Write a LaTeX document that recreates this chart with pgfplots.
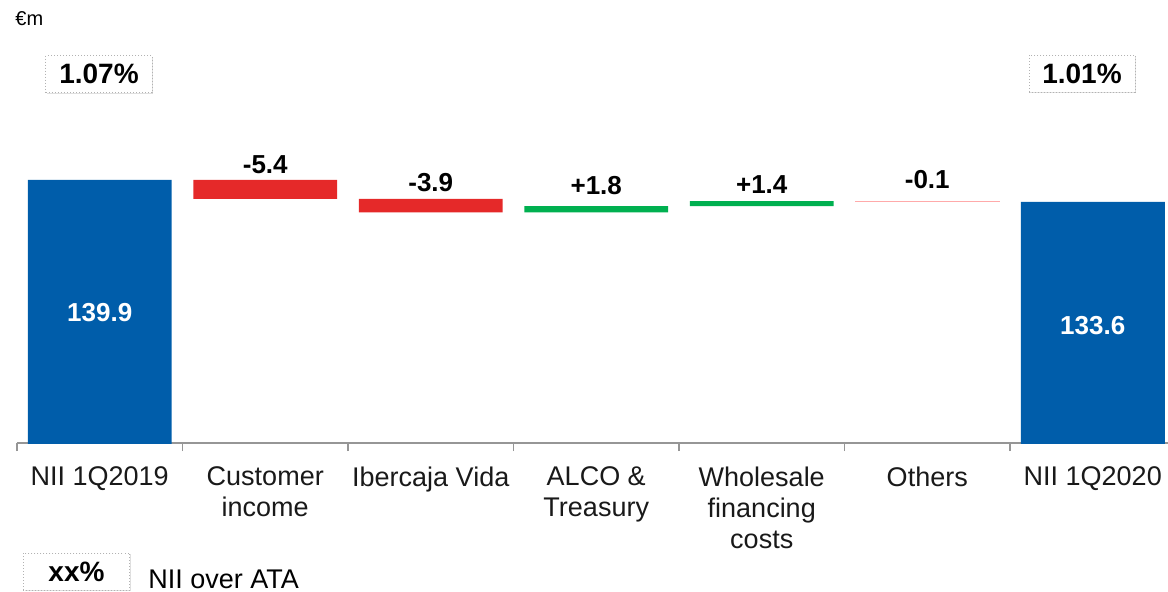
\documentclass[border=0pt]{standalone}
\usepackage{fontspec}
\setmainfont{Liberation Sans}
\usepackage{pgfplots}
\usepackage{pgfplotstable}
\pgfplotsset{compat=1.18}
\usetikzlibrary{shadows}
\definecolor{nblue}{RGB}{0,93,170}
\definecolor{nred}{RGB}{229,41,41}
\definecolor{ngreen}{RGB}{0,176,80}
\definecolor{npink}{RGB}{255,170,170}
\definecolor{axgray}{RGB}{150,150,150}

\pgfplotstableread{
x base pink blue red green
0 0 0 139.9 0 0
1 134.5 0 0 5.4 0
2 130.6 0 0 3.9 0
3 130.6 0 0 0 1.8
4 132.4 0 0 0 1.4
5 133.7 0.1 0 0 0
6 0 0 133.6 0 0
}\wf

\begin{document}
\begin{tikzpicture}
\begin{axis}[
  at={(0pt,0pt)}, anchor=south west,
  scale only axis, width=579.25pt, height=221.5pt,
  xmin=-0.5, xmax=6.5, ymin=64.5, ymax=191.48,
  ybar stacked, bar width=0.87,
  axis x line*=bottom, axis y line=none,
  axis line style={draw=axgray, line width=0.6pt},
  xtick={0,...,6},
  xticklabels={{NII 1Q2019},{Customer\\income},{Ibercaja Vida},{ALCO \&\\Treasury},{Wholesale\\financing\\costs},{Others},{NII 1Q2020}},
  major x tick style={draw=none},
  minor xtick={-0.5,0.5,...,6.5},
  minor x tick style={draw=axgray, line width=0.6pt},
  minor tick length=4pt,
  tick align=outside,
  xticklabel style={align=center, font=\fontsize{13.5}{15.5}\selectfont, text=black!90, yshift=-4pt},
  clip mode=individual,
]
\addplot[fill=none, draw=none] table[x=x, y=base]{\wf};
\addplot[fill=npink, draw=npink, line width=0.5pt] table[x=x, y=pink]{\wf};
\addplot[fill=nblue, draw=none] table[x=x, y=blue]{\wf};
\addplot[fill=nred, draw=none] table[x=x, y=red]{\wf};
\addplot[fill=ngreen, draw=none] table[x=x, y=green]{\wf};

\coordinate (l1) at (axis cs:1,141.76);
\coordinate (l2) at (axis cs:2,136.55);
\coordinate (l3) at (axis cs:3,135.6);
\coordinate (l4) at (axis cs:4,136.09);
\coordinate (l5) at (axis cs:5,137.5);
\coordinate (w0) at (axis cs:0,101.8);
\coordinate (w6) at (axis cs:6,98.07);
\end{axis}

\tikzset{dl/.style={font=\fontsize{13}{13}\selectfont\bfseries, anchor=base, inner sep=0pt}}
\node[dl] at (l1) {-5.4};
\node[dl] at (l2) {-3.9};
\node[dl] at (l3) {+1.8};
\node[dl] at (l4) {+1.4};
\node[dl] at (l5) {-0.1};
\node[font=\fontsize{13}{13}\selectfont\bfseries, text=white] at (w0) {139.9};
\node[font=\fontsize{13}{13}\selectfont\bfseries, text=white] at (w6) {133.6};

\tikzset{pbox/.style={fill=white, draw=gray!60, densely dotted, line width=0.5pt,
  minimum width=53pt, minimum height=18.5pt, inner sep=0pt,
  drop shadow={shadow xshift=0.6pt, shadow yshift=-0.6pt, opacity=0.25},
  font=\fontsize{14}{14}\selectfont\bfseries}}
\node at (-1pt,209pt) [anchor=base west, inner sep=0pt, font=\fontsize{10}{10}\selectfont] {€m};
\node[pbox] at (41pt,184.5pt) {1.07\%};
\node[pbox] at (532.5pt,184.75pt) {1.01\%};
\node[pbox] at (29.75pt,-64.25pt) {xx\%};
\node at (65.5pt,-72.5pt) [anchor=base west, inner sep=0pt, font=\fontsize{13.5}{13.5}\selectfont] {NII over ATA};

\pgfresetboundingbox
\path[use as bounding box] (-8.5pt,-74pt) rectangle (575.5pt,221.5pt);
\end{tikzpicture}
\end{document}
